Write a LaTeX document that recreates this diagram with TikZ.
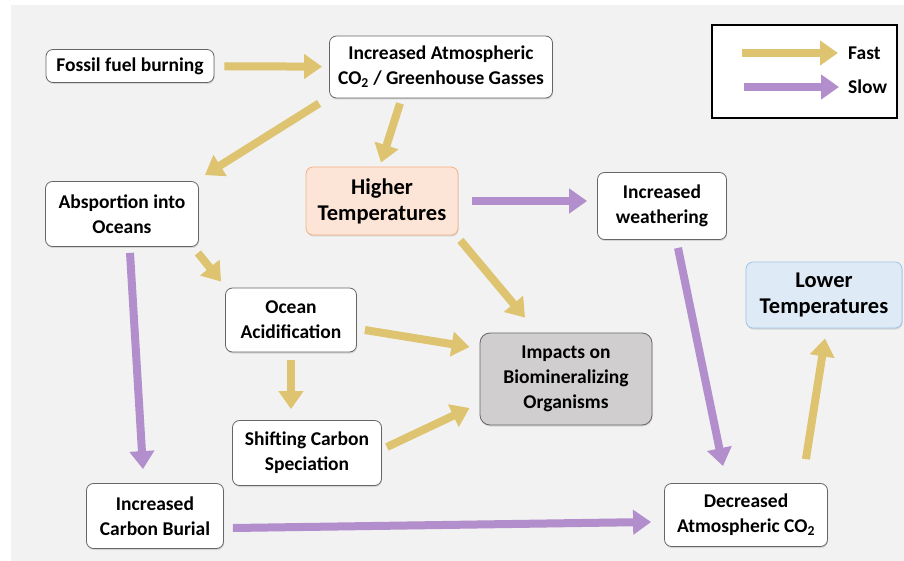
\documentclass[tikz,border=0pt]{standalone}
\usepackage{fontspec}
\setmainfont{Carlito}
\usetikzlibrary{arrows.meta,positioning,shadows}
\definecolor{bggrey}{RGB}{242,242,242}
\definecolor{fastc}{RGB}{222,196,112}
\definecolor{slowc}{RGB}{178,142,204}
\definecolor{hotfill}{RGB}{252,228,214}
\definecolor{hotline}{RGB}{244,177,131}
\definecolor{coldfill}{RGB}{222,235,247}
\definecolor{coldline}{RGB}{157,195,230}
\definecolor{impfill}{RGB}{208,206,206}

\begin{document}
\begin{tikzpicture}[x=1pt,y=-1pt, every node/.style={font=\bfseries\fontsize{19.5}{25}\selectfont},
    box/.style={draw=black!60, line width=0.8pt, rounded corners=7pt, fill=white!97!bggrey, align=center, inner sep=0pt,
        drop shadow={shadow xshift=0.6pt, shadow yshift=-1.5pt, opacity=0.25}},
    bigtext/.style={font=\bfseries\fontsize{22.5}{26}\selectfont},
    fast/.style={draw=fastc, line width=8pt, -{Triangle[length=18pt,width=24pt]}},
    slow/.style={draw=slowc, line width=8pt, -{Triangle[length=18pt,width=24pt]}}]
    \useasboundingbox (0,0) rectangle (904,561);
    \fill[bggrey] (11,5) rectangle (904,561);

    % nodes
    \node[box, minimum width=168pt, minimum height=33pt] (fossil) at (130,66) {Fossil fuel burning};
    \node[box, minimum width=223pt, minimum height=62pt] (co2) at (441,67) {Increased Atmospheric\\CO\textsubscript{2} / Greenhouse Gasses};
    \node[box, bigtext, fill=hotfill, draw=hotline, minimum width=152pt, minimum height=68pt] (higher) at (382,201) {Higher\\Temperatures};
    \node[box, minimum width=153pt, minimum height=65pt] (absorb) at (122,214) {Absportion into\\Oceans};
    \node[box, minimum width=129pt, minimum height=67pt] (weather) at (662,206) {Increased\\weathering};
    \node[box, bigtext, fill=coldfill, draw=coldline, minimum width=156pt, minimum height=66pt] (lower) at (824,295) {Lower\\Temperatures};
    \node[box, minimum width=131pt, minimum height=64pt] (acid) at (291,320) {Ocean\\Acidification};
    \node[box, fill=impfill, minimum width=172pt, minimum height=92pt, rounded corners=10pt] (impacts) at (566,379) {Impacts on\\Biomineralizing\\Organisms};
    \node[box, minimum width=149pt, minimum height=65pt] (shift) at (307,453) {Shifting Carbon\\Speciation};
    \node[box, minimum width=137pt, minimum height=65pt] (burial) at (155,516) {Increased\\Carbon Burial};
    \node[box, minimum width=163pt, minimum height=63pt] (decr) at (746,515) {Decreased\\Atmospheric CO\textsubscript{2}};

    % legend
    \node[draw=black, line width=2.5pt, fill=white, minimum width=185pt, minimum height=93pt] (legend) at (804.5,71.5) {};
    \node[inner sep=0pt, anchor=west] (fastlbl) at (848,53) {Fast};
    \node[inner sep=0pt, anchor=west] (slowlbl) at (848,87) {Slow};
    \draw[fast] ([xshift=-106pt]fastlbl.west) -- ([xshift=-10pt]fastlbl.west);
    \draw[slow] ([xshift=-104pt]slowlbl.west) -- ([xshift=-9pt]slowlbl.west);

    % fast links
    \draw[fast, shorten <=10pt, shorten >=7pt] (fossil) -- (co2);
    \draw[fast] ([shift={(-10,5)}]co2.south west) -- ([shift={(6,-6)}]absorb.north east);
    \draw[fast] ([shift={(-41,5)}]co2.south) -- ([shift={(-1,-4)}]higher.north);
    \draw[fast] ([shift={(2,5)}]higher.south east) -- ([shift={(-41,-15)}]impacts.north);
    \draw[fast] ([shift={(-1,6)}]absorb.south east) -- ([shift={(-4,-6)}]acid.north west);
    \draw[fast] ([shift={(8,10)}]acid.east) -- ([shift={(-10,-32)}]impacts.west);
    \draw[fast] ([shift={(0,8)}]acid.south) -- ([shift={(-16,-11)}]shift.north);
    \draw[fast] ([shift={(5,-6)}]shift.east) -- ([shift={(-10,29)}]impacts.west);
    \draw[fast] ([shift={(-22,-24)}]decr.north east) -- ([shift={(1,10)}]lower.south);

    % slow links
    \draw[slow] ([xshift=14pt]higher.east) -- ([xshift=-10pt]higher.east -| weather.west);
    \draw[slow] ([shift={(8,6)}]absorb.south) -- ([shift={(-12,-14)}]burial.north);
    \draw[slow] ([shift={(16,8)}]weather.south) -- ([shift={(-23,-17)}]decr.north);
    \draw[slow] ([shift={(9,12)}]burial.east) -- ([shift={(-13,7)}]decr.west);
\end{tikzpicture}
\end{document}
